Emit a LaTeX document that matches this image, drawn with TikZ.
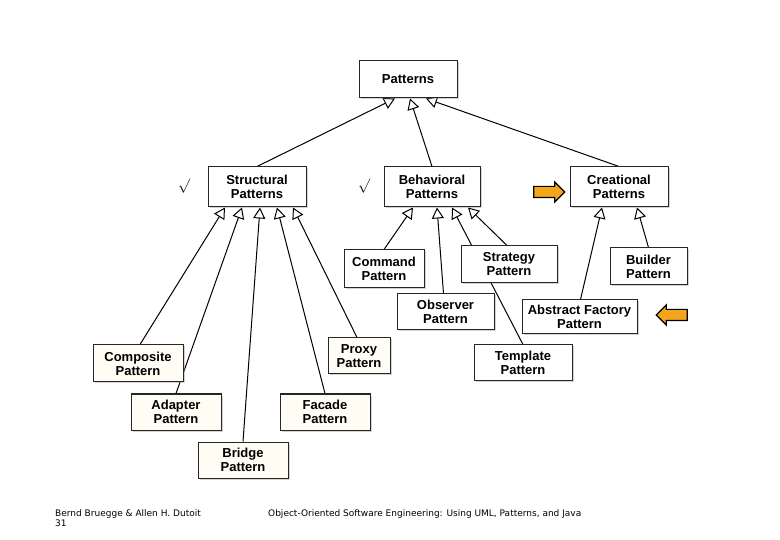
\documentclass[tikz,border=0pt]{standalone}
\usepackage{fontspec}
\setmainfont{Liberation Sans}
\newfontfamily\footfont{DejaVu Sans}
\usetikzlibrary{arrows.meta,shapes.arrows,shadows,backgrounds}

\definecolor{Cream}{HTML}{FFFCF4}
\definecolor{Mark}{HTML}{F3A61C}

\tikzset{
  pat/.style={draw=black!85, line width=1, fill=white, font=\bfseries\fontsize{13}{14}\selectfont,
    align=center, minimum height=37, inner sep=2,
    drop shadow={opacity=0.35, shadow xshift=1.5pt, shadow yshift=-1.5pt}},
  patc/.style={pat, fill=Cream},
  gen/.style={line width=1, -{Triangle[open, length=11pt, width=12pt]}},
  hint/.style={single arrow, draw=black, line width=1.2, fill=Mark, minimum height=31,
    minimum width=19, single arrow head extend=4.5, inner xsep=0, inner ysep=5},
}

\begin{document}
\begin{tikzpicture}[x=1pt, y=-1pt]
 \useasboundingbox (0,0) rectangle (780,540);

 %%%%%%%%%%%%%%%% TOP %%%%%%%%%%%%%%%%%%%%%%
 \node[pat, minimum width=98] (patt) at (408,79.5) {Patterns};

 \node[pat, minimum width=98, minimum height=40] (strc) at (257,187) {Structural\\Patterns};
 \node[pat, minimum width=96, minimum height=40] (behv) at (432,187) {Behavioral\\Patterns};
 \node[pat, minimum width=98, minimum height=40] (crea) at (619,187) {Creational\\Patterns};

 %%%%%%%%%% Structural %%%%%%%%%%
 \node[patc, minimum width=90] (comp) at (138,363.5) {Composite\\Pattern};
 \node[patc, minimum width=90, minimum height=36] (adpt) at (176,412) {Adapter\\Pattern};
 \node[patc, minimum width=90, minimum height=36] (brdg) at (243,460) {Bridge\\Pattern};
 \node[patc, minimum width=90, minimum height=36] (facd) at (325,412) {Facade\\Pattern};
 \node[patc, minimum width=62, minimum height=36] (prxy) at (359,356) {Proxy\\Pattern};

 %%%%%%%%%% Behavioral %%%%%%%%%%
 \node[pat, minimum width=80, minimum height=38] (cmnd) at (384,269) {Command\\Pattern};
 \node[pat, minimum width=96] (strt) at (509,264.5) {Strategy\\Pattern};
 \node[pat, minimum width=97, minimum height=36] (obsv) at (445.5,312) {Observer\\Pattern};
 \node[pat, minimum width=98, minimum height=36] (tmpl) at (523,363) {Template\\Pattern};

 %%%%%%%%%% Creational %%%%%%%%%%
 \node[pat, minimum width=77] (bldr) at (648.5,266.5) {Builder\\Pattern};
 \node[pat, minimum width=115, minimum height=34] (afac) at (579.5,317) {Abstract Factory\\Pattern};

 % Generalizations
 \begin{scope}[on background layer]
  \draw[gen] (strc.north) -- ([xshift=-13]patt.south);
  \draw[gen] (behv.north) -- ([xshift=2]patt.south);
  \draw[gen] (crea.north) -- ([xshift=18]patt.south);

  \draw[gen] ([xshift=2]comp.north) -- ([xshift=-32]strc.south);
  \draw[gen] (adpt.north) -- ([xshift=-15]strc.south);
  \draw[gen] (brdg.north) -- ([xshift=3]strc.south);
  \draw[gen] (facd.north) -- ([xshift=20]strc.south);
  \draw[gen] ([xshift=-2]prxy.north) -- ([xshift=36]strc.south);

  \draw[gen] (cmnd.north) -- ([xshift=-19]behv.south);
  \draw[gen] ([xshift=-2]obsv.north) -- ([xshift=5]behv.south);
  \draw[gen] (tmpl.north) -- ([xshift=20]behv.south);
  \draw[gen] ([xshift=-2]strt.north) -- ([xshift=36]behv.south);

  \draw[gen] ([xshift=1]afac.north) -- ([xshift=-17]crea.south);
  \draw[gen] (bldr.north) -- ([xshift=18]crea.south);
 \end{scope}

 % Marks
 \node[font=\fontsize{15}{15}\selectfont] (chk1) at (184,186) {$\surd$};
 \node[font=\fontsize{15}{15}\selectfont] (chk2) at (364,186) {$\surd$};
 \node[hint] (hnt1) at (546.5,192) {};
 \node[hint, shape border rotate=180] (hnt2) at (674.5,315) {};

 % Footer
 \node[anchor=north west, inner sep=0, align=left, font=\footfont\fontsize{9}{10}\selectfont] (auth) at (55,509) {Bernd Bruegge \& Allen H. Dutoit\\31};
 \node[anchor=north west, inner sep=0, font=\footfont\fontsize{9}{10}\selectfont] (book) at (268,509) {Object-Oriented Software Engineering: Using UML, Patterns, and Java};

\end{tikzpicture}
\end{document}
